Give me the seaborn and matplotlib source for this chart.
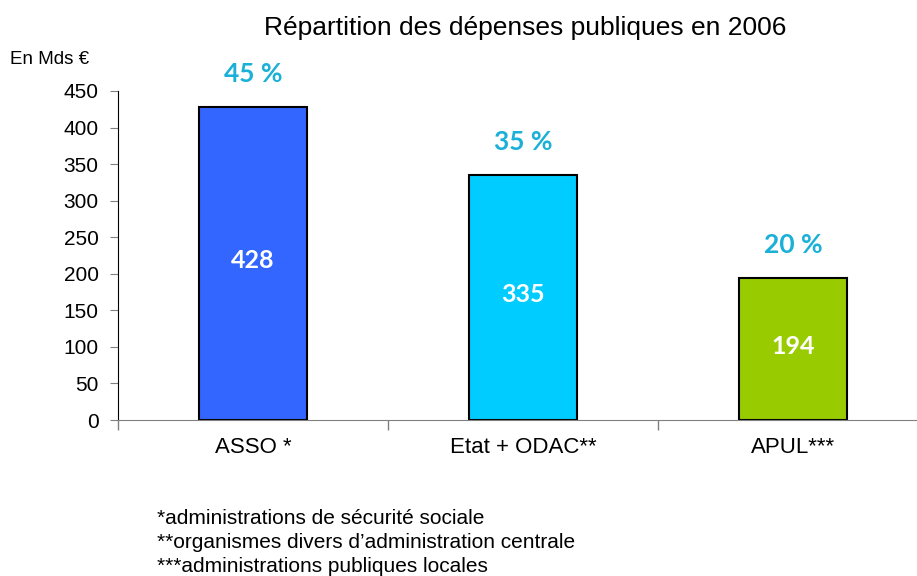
import numpy as np
import pandas as pd
import matplotlib
matplotlib.use("Agg")
import matplotlib.pyplot as plt
import seaborn as sns

# Data
categories = ["ASSO *", "Etat + ODAC**", "APUL***"]
values = [428, 335, 194]
shares = ["45 %", "35 %", "20 %"]
colors = ["#3366FF", "#00CCFF", "#99CC00"]
footnotes = ["*administrations de sécurité sociale",
             "**organismes divers d\u2019administration centrale",
             "***administrations publiques locales"]

df = pd.DataFrame({"cat": categories, "val": values})

sns.set_style("white")
plt.rcParams["font.family"] = ["Liberation Sans", "DejaVu Sans"]
plt.rcParams["text.color"] = "black"
plt.rcParams["xtick.labelcolor"] = "black"
plt.rcParams["ytick.labelcolor"] = "black"

fig = plt.figure(figsize=(9.17, 5.76), dpi=100)
ax = fig.add_axes([118 / 917, 156 / 576, 1 - 118 / 917, 329 / 576])

sns.barplot(data=df, x="cat", y="val", hue="cat", palette=colors, legend=False,
            width=0.4, edgecolor="black", linewidth=1.5, saturation=1, ax=ax)

ax.set_ylim(0, 450)
ax.set_xlim(-0.5, 2.46)
ax.set_yticks(np.arange(0, 451, 50))
ax.tick_params(axis="y", left=True, labelsize=15, length=6, color="#808080", pad=8)
ax.set_xticks(range(len(categories)))
ax.set_xticklabels(categories, fontsize=16)
ax.tick_params(axis="x", which="major", bottom=True, length=0, pad=12)
ax.set_xticks([-0.5, 0.5, 1.5], minor=True)
ax.tick_params(axis="x", which="minor", bottom=True, length=7, width=1,
               color="#808080", direction="out")
ax.set_xlabel("")
ax.set_ylabel("")

for s in ["top", "right"]:
    ax.spines[s].set_visible(False)
ax.spines["left"].set_color("black")
ax.spines["bottom"].set_color("#808080")

# labels
for i, (v, s) in enumerate(zip(values, shares)):
    ax.text(i, v + 45, s, ha="center", va="center", fontsize=19, fontweight="bold",
            color="#1AB0D8", family=["Lato", "DejaVu Sans"])
    ax.text(i, v / 2 + 4, str(v), ha="center", va="center", fontsize=18,
            fontweight="bold", color="white", family=["Lato", "DejaVu Sans"])

fig.text(525 / 917, 1 - 28 / 576, "Répartition des dépenses publiques en 2006",
         ha="center", va="center", fontsize=19)
fig.text(10 / 917, 1 - 60 / 576, "En Mds \u20ac", ha="left", va="center", fontsize=13.5)

for k, t in enumerate(footnotes):
    fig.text(157 / 917, 1 - (519 + 24 * k) / 576, t, ha="left", va="center", fontsize=15)

fig.savefig("out.png", dpi=100)
